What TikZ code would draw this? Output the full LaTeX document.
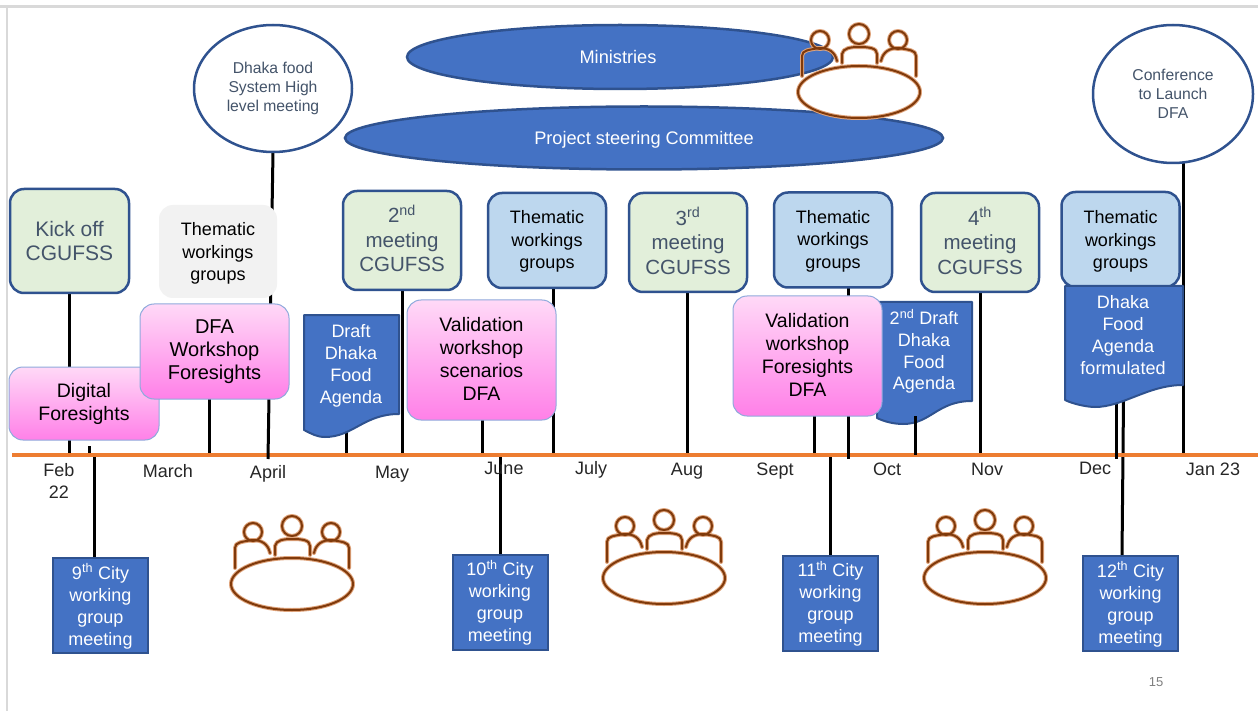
\documentclass[tikz,border=0pt]{standalone}
\usepackage{fontspec}
\setmainfont{Liberation Sans}
\usetikzlibrary{shapes.geometric}
\pgfdeclarelayer{bg}
\pgfdeclarelayer{paper}
\pgfsetlayers{paper,bg,main}
\definecolor{bluefill}{HTML}{4472C4}
\definecolor{blueline}{HTML}{2F528F}
\definecolor{greenfill}{HTML}{E2EFDA}
\definecolor{lightblue}{HTML}{BDD7EE}
\definecolor{slate}{HTML}{44546A}
\definecolor{orangeax}{HTML}{ED7D31}
\definecolor{brownicon}{HTML}{C55A11}
\definecolor{pinktop}{HTML}{FFD9F7}
\definecolor{pinkbot}{HTML}{FF80E8}
\definecolor{edgepink}{HTML}{8FAADC}
\newcommand{\fsz}[2]{\fontsize{#1}{#2}\selectfont}
\newcommand{\lift}[1]{\rule{0pt}{#1pt}}
\newcommand{\sink}[1]{\rule[-#1pt]{0pt}{#1pt}}
\newcommand{\docpath}[7]{% x1 x2 ytop yright lowx lowy yleft
  \path[docfill] (#1,#3) -- (#2,#3) -- (#2,#4)
    .. controls ({#2-35},#4) and ({#5+28},#6) .. (#5,#6)
    .. controls ({#5-8},#6) and ({#1+8},{#7+4}) .. (#1,#7) -- cycle;}
\tikzset{
  x=1pt,y=-1pt,
  docfill/.style={fill=bluefill,draw=blueline,line width=2pt,line join=round},
  conn/.style={draw=black,line width=3pt},
  boxbase/.style={inner sep=0pt,outer sep=0pt,align=center,rounded corners=14pt},
  greenbox/.style={boxbase,fill=greenfill,draw=blueline,line width=2.5pt,text=slate,font=\fsz{20.5}{24.5}},
  thembox/.style={boxbase,fill=lightblue,draw=blueline,line width=2.5pt,text=black,font=\fsz{18}{22.5},minimum width=118pt,minimum height=95pt},
  greybox/.style={boxbase,fill=black!5,text=black,font=\fsz{18}{22.5},minimum width=118pt,minimum height=93pt},
  pinkbox/.style={boxbase,top color=pinktop,bottom color=pinkbot,draw=edgepink,line width=1pt,text=black,font=\fsz{19.5}{23}},
  citybox/.style={inner sep=0pt,outer sep=0pt,align=center,fill=bluefill,draw=blueline,line width=2pt,text=white,font=\fsz{18}{22},minimum width=95pt,minimum height=95pt},
  doctext/.style={inner sep=0pt,outer sep=0pt,align=center,text=white,font=\fsz{18}{22}},
  bluell/.style={ellipse,inner sep=0pt,outer sep=0pt,fill=bluefill,draw=blueline,line width=2.5pt,text=white,font=\fsz{18.2}{22}},
  whiteell/.style={ellipse,inner sep=0pt,outer sep=0pt,fill=white,draw=blueline,line width=2.5pt,text=slate,align=center,font=\fsz{15.7}{18.7}},
  month/.style={inner sep=0pt,text=black!85,align=center,font=\fsz{18}{22}},
  roomline/.style={line width=#1,line cap=round,line join=round},
  room/.pic={
    \foreach \lw/\col in {4pt/brownicon!55,2pt/brownicon!65!black}{
      \draw[roomline=\lw,draw=\col] (-57,-16) -- (-57,-36) .. controls (-57,-42) and (-50,-42) .. (-40,-44) .. controls (-30,-44) and (-24,-40) .. (-22,-31);
      \draw[roomline=\lw,draw=\col] (-17,-29) -- (-17,-38) .. controls (-16,-44) and (-8,-45) .. (0,-45) .. controls (10,-45) and (18,-44) .. (18,-38) -- (18,-29);
      \draw[roomline=\lw,draw=\col] (22,-31) .. controls (24,-40) and (30,-44) .. (40,-44) .. controls (50,-42) and (57,-42) .. (57,-36) -- (57,-16);
      \draw[roomline=\lw,draw=\col] (-39,-52) circle[radius=9];
      \draw[roomline=\lw,draw=\col] (0,-58) circle[radius=10];
      \draw[roomline=\lw,draw=\col] (39,-52) circle[radius=9];
    }
    \path[fill=white] (0,0) ellipse[x radius=61,y radius=26];
    \foreach \lw/\col in {4pt/brownicon!55,2pt/brownicon!65!black}{
      \draw[roomline=\lw,draw=\col] (0,0) ellipse[x radius=61,y radius=26];
    }
  }
}
\begin{document}
\begin{tikzpicture}
\useasboundingbox (0,0) rectangle (1258,711);
\begin{pgfonlayer}{paper}
\fill[white] (0,0) rectangle (1258,711);
\draw[black!15,line width=3pt] (0,6.5) -- (1258,6.5);
\draw[black!15,line width=2pt] (7,6) -- (7,711);
\end{pgfonlayer}

% axis coordinates
\coordinate (axL) at (12,455);
\coordinate (axR) at (1258,455);
\foreach \nm/\xx/\yy in {aKick/69/455,aTick/89/455,aNine/94/455,aMar/209/455,aApr/268/459,aDraft/346/455,aMay/402/455,aVal/482/455,aThJ/553/455,aTen/500/455,aThree/687/455,aValB/814/455,aThS/848/459,aEle/830/455,aDraftB/915/455,aFour/980/455,aFormL/1116/459,aTwelve/1122/458,aConf/1183/455}{
  \coordinate (\nm) at (\xx,\yy);
}
\coordinate (tickTop) at (89,446);
\coordinate (draftBfoot) at (915,416);
\coordinate (formFoot) at (1123.5,400);
\coordinate (formFootL) at (1116,400);

% nodes
\node[whiteell,minimum width=158pt,minimum height=127pt] (dhaka) at (273,88.5) {Dhaka food\\System High\\level meeting};
\node[whiteell,minimum width=160pt,minimum height=138pt] (conf) at (1173,94) {Conference\\to Launch\\DFA};
\node[bluell,minimum width=426pt,minimum height=64pt] (min) at (620,57) {};
\node[inner sep=0pt,text=white,font=\fsz{18.2}{22}] (minT) at (618,57) {Ministries};
\node[bluell,minimum width=598pt,minimum height=63pt,text depth=0pt] (psc) at (644,138) {Project steering Committee};

\pic at (859,92) {room};
\pic at (292,584) {room};
\pic at (664,578) {room};
\pic at (985,578) {room};

\node[greenbox,minimum width=119pt,minimum height=104pt,font=\fsz{21}{24}] (kick) at (69.5,241) {Kick off\\CGUFSS};
\node[greybox] (thA) at (218,251.5) {\lift{17.5}Thematic\\workings\\groups};
\node[greenbox,minimum width=118pt,minimum height=99pt] (two) at (402,240.5) {\raisebox{0pt}[1.3ex][0pt]{2\textsuperscript{nd}}\\meeting\\CGUFSS};
\node[thembox] (thJ) at (547,240.5) {\lift{15.5}Thematic\\workings\\groups};
\node[greenbox,minimum width=118pt,minimum height=99pt] (three) at (688,242.5) {\raisebox{0pt}[1.4ex][0pt]{3\textsuperscript{rd}}\\meeting\\CGUFSS};
\node[thembox] (thS) at (833,240) {\lift{15}Thematic\\workings\\groups};
\node[greenbox,minimum width=118pt,minimum height=99pt] (four) at (980,242.5) {\raisebox{0pt}[1.4ex][0pt]{4\textsuperscript{th}}\\meeting\\CGUFSS};
\node[thembox] (thD) at (1120.5,239.5) {\lift{17.5}Thematic\\workings\\groups};

\node[pinkbox,minimum width=150pt,minimum height=73pt] (dig) at (84,403.5) {Digital\\Foresights};
\node[pinkbox,minimum width=149pt,minimum height=95pt,font=\fsz{20}{23}] (dfa) at (214.5,351.5) {DFA\\Workshop\\Foresights};

\docpath{304}{399}{315}{414}{325}{437}{430}
\node[doctext] (draft) at (351,366) {Draft\\Dhaka\\Food\\Agenda};

\node[pinkbox,minimum width=149pt,minimum height=120pt] (val) at (481.5,360) {Validation\\workshop\\scenarios\\DFA\sink{2}};

\docpath{877}{972}{302}{401}{903}{424}{418}
\node[doctext,font=\fsz{18}{21.7}] (draftB) at (924,351.5) {2\textsuperscript{nd} Draft\\Dhaka\\Food\\Agenda};
\node[pinkbox,minimum width=149pt,minimum height=120pt] (valB) at (807.5,356) {Validation\\workshop\\Foresights\\DFA\sink{3}};

\docpath{1065}{1183}{286}{385}{1095}{407}{400}
\node[doctext] (form) at (1123,335) {Dhaka\\Food\\Agenda\\formulated};

\node[citybox] (nine) at (100.5,605) {\lift{18}9\textsuperscript{th} City\\working\\group\\meeting};
\node[citybox] (ten) at (500,602) {\lift{17}10\textsuperscript{th} City\\working\\group\\meeting};
\node[citybox] (eleven) at (830.5,603) {\lift{17.5}11\textsuperscript{th} City\\working\\group\\meeting};
\node[citybox] (twelve) at (1130.5,603) {\lift{18}12\textsuperscript{th} City\\working\\group\\meeting};

% month labels
\node[month] (mFeb) at (59,481) {Feb\\22};
\node[month] (mMar) at (168,471) {March};
\node[month] (mApr) at (268,474) {April};
\node[month] (mMay) at (392,474) {May};
\node[month] (mJun) at (504,468) {June};
\node[month] (mJul) at (591,470) {July};
\node[month] (mAug) at (687,471) {Aug};
\node[month] (mSep) at (775,471) {Sept};
\node[month] (mOct) at (887,469) {Oct};
\node[month] (mNov) at (987,469) {Nov};
\node[month] (mDec) at (1095,468) {Dec};
\node[month] (mJan) at (1213,469) {Jan 23};
\node[inner sep=0pt,text=black!50,font=\fsz{13}{15}] (pg) at (1156,682) {15};

% connectors
\begin{pgfonlayer}{bg}
  \draw[conn] (aKick |- kick.south) -- (aKick);
  \draw[conn] (tickTop) -- (aTick);
  \draw[conn] (aNine) -- (aNine |- nine.north);
  \draw[conn] (aMar |- dfa.south) -- (aMar);
  \draw[conn] (aDraft |- draft.south) -- (aDraft);
  \draw[conn] (aMay |- two.south) -- (aMay);
  \draw[conn] (aVal |- val.south) -- (aVal);
  \draw[conn] (aThJ |- thJ.south) -- (aThJ);
  \draw[conn] (aTen) -- (aTen |- ten.north);
  \draw[conn] (aThree |- three.south) -- (aThree);
  \draw[conn] (aValB |- valB.south) -- (aValB);
  \draw[conn] (aEle) -- (aEle |- eleven.north);
  \draw[conn] (aFour |- four.south) -- (aFour);
  \draw[conn] (aConf |- conf.south) -- (aConf);
  \draw[conn] (formFoot) -- (aTwelve |- twelve.north);
  \draw[orangeax,line width=4pt] (axL) -- (axR);
  \draw[conn] (dhaka.south) -- (aApr);
  \draw[conn] (aThS |- thS.south) -- (aThS);
  \draw[conn] (formFootL) -- (aFormL);
\end{pgfonlayer}
\draw[conn] (draftBfoot) -- (aDraftB);
\end{tikzpicture}
\end{document}
